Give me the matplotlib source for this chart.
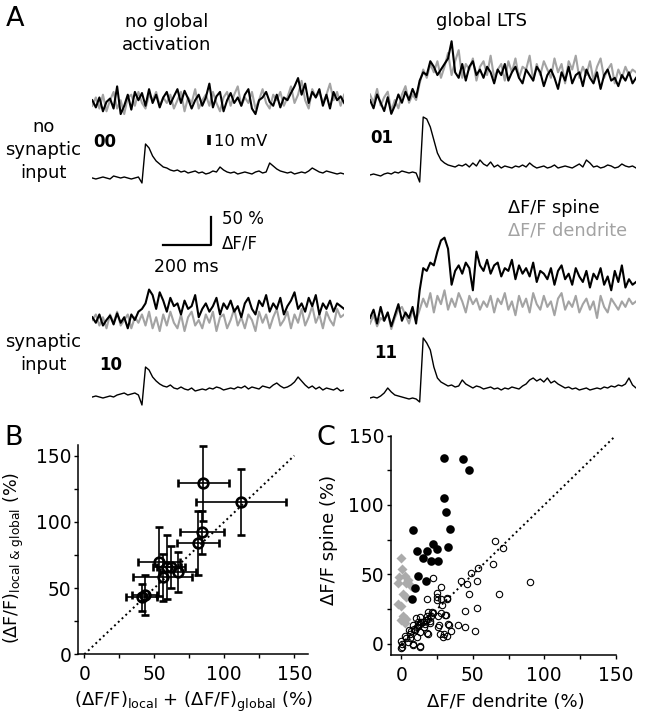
import matplotlib
matplotlib.use('Agg')
import matplotlib.pyplot as plt
from matplotlib.ticker import MultipleLocator

plt.rcParams['font.family'] = ['DejaVu Sans']
plt.rcParams['mathtext.fontset'] = 'dejavusans'

# ---------------- panel A: traces (dF/F in %, Vm in mV, one sample / 15 ms) ----------------
DT = 15
SCALE_MS = 200
SCALE_PCT = 50
SCALE_MV = 10

spine_00 = [5, -8, 10, -15, 2, 8, -10, 30, -20, -5, 15, -12, 20, 5, 18, -5, 25, 0, 15, -8,
            10, 20, -2, 12, 25, 0, 22, 8, -10, 5, 15, -5, 10, 35, -8, 12, 20, -15, 5, 18,
            0, 10, -5, 15, 25, -10, -20, 5, 10, 20, 2, -5, 15, -8, 10, 5, 18, 30, 45, 15,
            35, 0, 20, 10, 25, -5, 15, -10, 20, 5, 12, 0]
dend_00 = [-5, 10, -10, 15, -15, 5, 20, -10, 5, -20, 10, 15, -5, 20, 0, -10, 15, 5, 20, -5,
           10, 0, 15, -10, 5, 20, -15, 10, 0, 25, -10, 5, 15, -5, 20, 0, -15, 10, 20, -5,
           15, 30, -5, 10, 0, 20, -10, 5, 25, 0, -10, 15, 5, 20, -5, 10, 30, 0, 15, 40,
           5, -10, 25, 10, 20, 0, 15, 35, 5, 20, -5, 15]
vm_00 = [0, -1, 0, 1, 0, -1, 2, 1, 0, 1, 0, -1, 0, 1, -5,
         34, 30, 22, 17, 14, 11, 10, 8, 7, 8, 6, 7, 5, 6, 7, 5, 6, 4, 5, 7,
         6, 11, 8, 6, 5, 6, 4, 5, 6, 5, 4, 6, 7, 5, 6, 15, 12, 9, 7, 6,
         5, 6, 4, 5, 6, 5, 7, 10, 8, 6, 5, 7, 6, 5, 4, 5, 4]

spine_01 = [0, -15, 10, -5, -20, 5, -25, -10, 10, -5, 15, 0, 20, 5,
            35, 50, 45, 70, 60, 45, 55,
            65, 75, 106, 50, 40, 65, 35, 60, 70, 45,
            55, 40, 60, 50, 30, 55, 45, 65, 35, 50,
            60, 40, 30, 55, 45, 35, 60, 50, 25, 45,
            55, 40, 20, 50, 35, 60, 30, 45, 50, 25,
            55, 40, 30, 50, 20, 45, 55, 35, 40, 25,
            45, 35, 50, 30, 40]
dend_01 = [10, -5, 20, -10, 5, 15, -20, 0, -15, 10, 25, -5, 10, 0,
           30, 55, 40, 65, 50, 70, 40,
           60, 85, 45, 70, 90, 40, 65, 55, 75, 35,
           60, 70, 45, 80, 40, 55, 65, 35, 70, 50,
           75, 40, 60, 55, 80, 35, 65, 45, 70, 55,
           40, 75, 50, 65, 30, 70, 55, 80, 40, 60,
           45, 70, 35, 60, 75, 40, 55, 65, 30, 55,
           40, 60, 45, 55, 50]
vm_01 = [0, 1, 0, -1, 1, 2, 1, 3, 2, 4, 3, 2, 3, 2, -7,
         58, 56, 48, 35, 22, 15, 12, 10, 9, 8, 10, 9, 11, 8, 12, 9, 15, 11, 9, 13,
         8, 10, 7, 9, 8, 7, 9, 8, 10, 8, 12, 9, 7, 8, 9, 7, 8, 10, 7, 8,
         9, 8, 7, 9, 11, 8, 15, 12, 8, 9, 7, 8, 10, 9, 7, 8, 11, 9, 8, 9, 7]

spine_10 = [5, -5, 10, -10, 0, 8, -8, 12, -5, 5, -15, 10, 0, 15, 20,
            30, 55, 45, 20, 50, 35, 15, 40, 25, 30, 10, 35, 20, 25, 45, 5, 20, 30, 15, 25,
            40, 10, 30, 20, 35, 15, 25, 5, 30, 40, 20, 10, 35, 25, 45, 15, 30, 20, 40, 10,
            25, 35, 50, 20, 30, 15, 40, 25, 45, 10, 30, 20, 35, 15, 30, 25, 20]
dend_10 = [0, 10, -10, 5, -15, 10, -5, 15, -10, 0, 10, -15, 5, -5, 10, -10, 15, -15, 5, -20,
           10, -10, 15, -5, -15, 10, -20, 5, 15, -10, 0, -15, 10, -5, 15, -20, 5, 10, -15, 0,
           20, -10, 5, -15, 10, 0, -20, 15, -5, 10, -15, 5, 20, -10, 0, 15, -15, 10, -5, 20,
           -10, 5, 25, -5, 10, -15, 15, 0, -10, 20, 5, 10]
vm_10 = [0, 1, 0, -1, 0, 1, 0, 2, 3, 4, 2, 3, 4, 2, -8,
         30, 27, 20, 16, 13, 11, 10, 12, 9, 8, 10, 8, 7, 9, 6, 7, 8, 7, 9, 8,
         10, 9, 7, 8, 9, 8, 10, 9, 11, 8, 10, 9, 8, 11, 10, 9, 12, 14, 11, 9,
         10, 12, 15, 20, 16, 12, 9, 11, 8, 10, 7, 9, 8, 7, 9, 6, 7]

spine_11 = [0, 15, -10, 20, -5, 10, -15, 5, 25, -5, 10, 0, 20, -10,
            50, 90, 85, 100, 95, 120, 140, 145, 125, 60,
            85, 95, 80, 100, 90, 50, 120, 95, 85, 105,
            80, 95, 100, 75, 90, 85, 105, 70, 95, 80,
            90, 75, 100, 65, 85, 80, 70, 90, 60, 85,
            95, 70, 80, 60, 90, 75, 65, 85, 55, 80,
            70, 90, 60, 75, 50, 85, 65, 95, 55, 70,
            60, 65]
dend_11 = [-10, 5, -15, 0, -5, 10, -20, 0, 15, 20, 5, -10, 15, -5,
           15, 35, 20, 45, 10, 40, 25, 50, 15, 35, 20, 45, 30, 10, 40, 25, 35, 15, 30, 20,
           40, 10, 35, 25, 45, 15, 30, 5, 40, 20, 35, 10, 45, 25, 15, 40, 20, 30, 5, 35,
           45, 15, 30, 20, 40, 10, 25, 35, 15, 30, 0, 40, 20, 10, 35, 25, 15, 30, 20, 35,
           25, 30]
vm_11 = [0, 1, 0, 2, 5, 10, 6, 3, 2, 1, 0, -1, 0, -1, -4,
         60, 55, 48, 31, 20, 16, 14, 12, 13, 11, 12, 18, 14, 12, 10, 12, 11, 9, 10, 11,
         9, 10, 8, 10, 9, 11, 10, 9, 12, 14, 18, 20, 17, 19, 16, 20, 15, 17, 14, 12,
         10, 11, 9, 10, 8, 9, 10, 8, 9, 10, 9, 11, 10, 12, 11, 13, 12, 14, 20, 13, 10]

# ---------------- panel B ----------------
b_x = [85, 112, 84, 81, 53, 59, 62, 67, 56, 41, 43]
b_y = [129, 115, 92, 84, 70, 66, 66, 62, 58, 43, 45]
b_xerr = [18, 32, 16, 15, 15, 10, 10, 13, 21, 11, 9]
b_yerr = [28, 25, 16, 24, 26, 24, 16, 15, 18, 10, 15]

# ---------------- panel C ----------------
c_fill_x = [30, 43, 47, 30, 31, 34, 8.5, 22, 11, 18, 25, 33, 15, 20.5, 26, 12, 17.5, 9.5, 7.5]
c_fill_y = [134, 133, 125, 105, 95, 83, 82, 72, 67, 67, 68, 70, 62, 60, 60, 49, 45, 40, 32]

c_diam_x = [0, 0.5, -1.5, 2.5, 5, -2, 3, 7, 1, 3, -2.5, -0.5, 1, 0, 2.5, 3.5]
c_diam_y = [62, 54, 48, 49, 46, 44, 44, 42, 36, 34, 29, 27, 20, 17, 15, 18]

c_open_x = [65.5, 71.3, 64.3, 53.4, 48.5, 41.5, 45.7, 52.7, 90, 68.5, 47.3, 27.8, 27.8, 31.8,
            27.8, 31, 44.5, 52.7, 33.6, 39.9, 44.5, 51.5, 34.8, 31.8, 28.9,
            22.4, 24.7, 24.7, 24.7, 17.8, 28.2, 32.2, 21.7, 18.4, 25.9, 18.9, 13.1, 7.9, 0.3,
            10.1, 13.3, 18.2, 22.2, 25.7, 30.8, 14, 16.3, 19.8, 8.2, 11.7, 26.1, 32.7, 5.2,
            9.4, 12.8, 18.2, 26.8, 29.9, 2.4, 5.9, 11.2, 0, 4.7, 0.5, 8.2, 12.8, 0,
            3, 6, 7, 9, 11, 13, 15, 17, 19, 21, 12, 16, 20]
c_open_y = [74.3, 68.8, 57.6, 54.4, 50.8, 45.5, 43.2, 45.5, 44.8, 35.7, 35.7, 41.2, 32.2, 33,
            22, 20.9, 24, 25.7, 13.7, 13.7, 12.5, 9.6, 9.6, 6, 4.8,
            47.5, 36.5, 34, 31.7, 32.4, 28, 32.1, 22.8, 23.3, 12.5, 7, -2.4, -0.7, -2.4,
            18.5, 19, 19.9, 22.3, 19.9, 20.6, 15.7, 14.5, 16.2, 13.3, 13.3, 13.3, 14.5, 10,
            10, 8.8, 8.1, 6.9, 6.9, 5.5, 4.3, 5.1, 2.4, 1.7, 0, 0, -1.4, -2.9,
            4, 7, 9, 11, 12, 14, 16, 17, 18, 20, 16, 12, 15]

W, H = 645, 720
GREY = '#a3a3a3'
PX_MS = 47.3 / 200   # px per ms
PX_PCT = 27.7 / 50   # px per % dF/F
PX_MV = 1.0          # px per mV
FS = 13

fig = plt.figure(figsize=(W / 100, H / 100), dpi=100)


def ftext(x, y, s, **kw):
    fig.text(x / W, 1 - y / H, s, **kw)


def trace_axes(left, base, t_end, lo, hi, ppu):
    ax = fig.add_axes([left / W, 1 - (base - lo * ppu) / H,
                       t_end * PX_MS / W, (hi - lo) * ppu / H])
    ax.set_xlim(0, t_end)
    ax.set_ylim(lo, hi)
    ax.axis('off')
    return ax


# (spine, dendrite, Vm, left px, dF/F baseline px, Vm baseline px)
conds = [(spine_00, dend_00, vm_00, 92.3, 103, 178),
         (spine_01, dend_01, vm_01, 370, 100, 175),
         (spine_10, dend_10, vm_10, 92.3, 320, 397),
         (spine_11, dend_11, vm_11, 370, 318, 398)]

v_axes = []
for sp, de, vm, left, fbase, vbase in conds:
    t = [i * DT for i in range(len(sp))]
    axf = trace_axes(left, fbase, t[-1], -40, 160, PX_PCT)
    axf.plot(t, de, color=GREY, lw=1.5, solid_joinstyle='round')
    axf.plot(t, sp, color='k', lw=1.5, solid_joinstyle='round')
    tv = [i * DT for i in range(len(vm))]
    axv = trace_axes(left, vbase, tv[-1], -12, 65, PX_MV)
    axv.plot(tv, vm, color='k', lw=1.0)
    v_axes.append(axv)

# 10 mV bar next to trace 00
v_axes[0].plot([495, 495], [33, 33 + SCALE_MV], color='k', lw=2.6, solid_capstyle='butt')

# 200 ms / 50 % scale bar
axs = trace_axes(163.3, 245, SCALE_MS, 0, SCALE_PCT, PX_PCT)
axs.plot([0, SCALE_MS, SCALE_MS], [0, 0, SCALE_PCT], color='k', lw=1.6, clip_on=False)

# panel A texts
ftext(6, 26, 'A', fontsize=19.5, va='baseline')
ftext(166.5, 27, 'no global', fontsize=FS, ha='center', va='baseline')
ftext(166.5, 50, 'activation', fontsize=FS, ha='center', va='baseline')
ftext(481.5, 26, 'global LTS', fontsize=FS, ha='center', va='baseline')
ftext(43.5, 131.7, 'no', fontsize=FS, ha='center', va='baseline')
ftext(43.5, 155, 'synaptic', fontsize=FS, ha='center', va='baseline')
ftext(43.5, 178, 'input', fontsize=FS, ha='center', va='baseline')
ftext(43.5, 346.7, 'synaptic', fontsize=FS, ha='center', va='baseline')
ftext(43.5, 370, 'input', fontsize=FS, ha='center', va='baseline')
ftext(93, 146.7, '00', fontsize=12, fontweight='bold', va='baseline')
ftext(370, 143.3, '01', fontsize=12, fontweight='bold', va='baseline')
ftext(99, 370, '10', fontsize=12, fontweight='bold', va='baseline')
ftext(374, 358.3, '11', fontsize=12, fontweight='bold', va='baseline')
ftext(214, 145.7, '10 mV', fontsize=11.8, va='baseline')
ftext(222.3, 224.3, '50 %', fontsize=12, va='baseline')
ftext(222.3, 248.3, 'ΔF/F', fontsize=12, va='baseline')
ftext(186.7, 271.7, '200 ms', fontsize=12.5, ha='center', va='baseline')
ftext(508.3, 212.7, 'ΔF/F spine', fontsize=12.8, va='baseline')
ftext(508.3, 236, 'ΔF/F dendrite', fontsize=12.8, va='baseline', color=GREY)


def style_axes(ax):
    for s in ('top', 'right'):
        ax.spines[s].set_visible(False)
    for s in ('left', 'bottom'):
        ax.spines[s].set_linewidth(1.1)
    ax.xaxis.set_major_locator(MultipleLocator(50))
    ax.yaxis.set_major_locator(MultipleLocator(50))
    ax.xaxis.set_minor_locator(MultipleLocator(25))
    ax.yaxis.set_minor_locator(MultipleLocator(25))
    ax.tick_params(which='both', direction='out', length=3, width=1.0, labelsize=13.4)
    ax.tick_params(axis='x', which='both', pad=5)
    ax.tick_params(axis='y', which='both', pad=2)


# ---- panel B ----
axB = fig.add_axes([78.3 / W, 1 - 654.3 / H, 230 / W, 209.3 / H])
axB.plot([0, 150], [0, 150], ':', color='k', lw=1.4)
axB.errorbar(b_x, b_y, xerr=b_xerr, yerr=b_yerr, fmt='o', ms=7, mfc='none', mec='k',
             mew=1.9, ecolor='k', elinewidth=1.2, capsize=2.8, capthick=1.2, clip_on=False)
axB.set_xlim(-4.3, 160)
axB.set_ylim(0, 158)
style_axes(axB)
ftext(4, 445, 'B', fontsize=19.5, va='baseline')
ftext(194, 706.5, r'(ΔF/F)$\mathregular{_{local}}$ + (ΔF/F)$\mathregular{_{global}}$ (%)',
      fontsize=FS, ha='center', va='baseline')
ftext(14, 558, r'(ΔF/F)$\mathregular{_{local\ &\ global}}$ (%)', fontsize=12.6,
      ha='center', va='center', rotation=90)

# ---- panel C ----
axC = fig.add_axes([391 / W, 1 - 655 / H, 224.8 / W, 219.5 / H])
axC.plot([0, 150], [0, 150], ':', color='k', lw=1.4)
axC.plot(c_open_x, c_open_y, 'o', ms=4.6, mfc='none', mec='k', mew=0.8)
axC.plot(c_diam_x, c_diam_y, 'D', ms=5, color='#ababab', mec='none')
axC.plot(c_fill_x, c_fill_y, 'o', ms=6.2, color='k', mec='none')
axC.set_xlim(-7.2, 150)
axC.set_ylim(-8, 150)
style_axes(axC)
ftext(317, 445, 'C', fontsize=19.5, va='baseline')
ftext(506, 707, 'ΔF/F dendrite (%)', fontsize=FS, ha='center', va='baseline')
ftext(329, 540, 'ΔF/F spine (%)', fontsize=FS, ha='center', va='center', rotation=90)

fig.savefig('out.png', dpi=100)
